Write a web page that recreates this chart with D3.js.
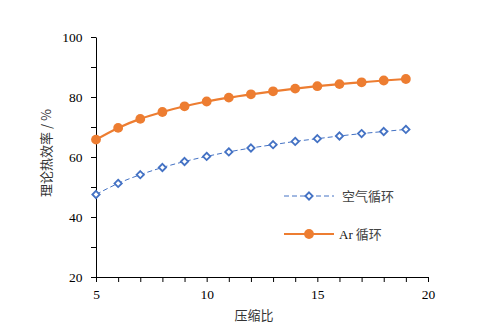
<!DOCTYPE html>
<html>
<head>
<meta charset="utf-8">
<script src="https://cdn.jsdelivr.net/npm/d3@7"></script>
<style>
  html, body { margin: 0; padding: 0; background: #fff; }
  svg { display: block; }
</style>
</head>
<body>
<script>
// Compression ratio and theoretical thermal efficiency (%) for the two cycles
const ratios = [5, 6, 7, 8, 9, 10, 11, 12, 13, 14, 15, 16, 17, 18, 19];
const airEfficiency = [47.5, 51.2, 54.1, 56.5, 58.5, 60.2, 61.7, 63.0, 64.1, 65.2, 66.1, 67.0, 67.8, 68.5, 69.2];
const arEfficiency = [65.8, 69.7, 72.7, 75.0, 76.9, 78.5, 79.8, 80.9, 81.9, 82.8, 83.6, 84.3, 84.9, 85.5, 86.0];
const xTickValues = [5, 10, 15, 20];
const yTickValues = [20, 40, 60, 80, 100];
const seriesNames = ["空气循环", "Ar 循环"];

const W = 482, H = 333;
const margin = { left: 96, right: 54, top: 37, bottom: 56 };
const blue = "#4472C4", orange = "#ED7D31";
const serif = "'Liberation Serif', 'Times New Roman', serif";
const cjk = "'Noto Sans CJK SC', 'Noto Sans', sans-serif";

const svg = d3.select("body").append("svg").attr("width", W).attr("height", H);

const x = d3.scaleLinear().domain([5, 20]).range([margin.left, W - margin.right]);
const y = d3.scaleLinear().domain([20, 100]).range([H - margin.bottom, margin.top]);

// x axis: a tick at every unit, labels every 5
const xAxis = svg.append("g")
  .attr("transform", `translate(0,${y(20)})`)
  .call(d3.axisBottom(x).tickValues(d3.range(5, 21, 1)).tickSize(5).tickSizeOuter(0)
    .tickFormat(d => xTickValues.includes(d) ? d : ""));
xAxis.attr("font-family", serif);
xAxis.selectAll("text").attr("font-family", serif).attr("font-size", 13.5).attr("fill", "#000").attr("dy", "1.0em");

// y axis: labelled majors and unlabelled minors
const yAxis = svg.append("g")
  .attr("transform", `translate(${x(5)},0)`)
  .call(d3.axisLeft(y).tickValues(d3.range(20, 101, 10)).tickSize(5).tickSizeOuter(0)
    .tickFormat(d => yTickValues.includes(d) ? d : ""));
yAxis.attr("font-family", serif);
yAxis.selectAll("text").attr("font-family", serif).attr("font-size", 13.5).attr("fill", "#000").attr("dx", "-0.4em");

svg.selectAll(".domain, .tick line").attr("stroke", "#000").attr("stroke-width", 1);

// Axis titles
svg.append("text")
  .attr("x", 254).attr("y", 320)
  .attr("text-anchor", "middle")
  .attr("font-family", cjk).attr("font-size", 13).attr("fill", "#333")
  .text("压缩比");

svg.append("text")
  .attr("transform", `translate(51,153) rotate(-90)`)
  .attr("text-anchor", "middle")
  .attr("font-family", cjk).attr("font-size", 13).attr("fill", "#333")
  .text("理论热效率 / %");

const line = d3.line().x(d => x(d[0])).y(d => y(d[1])).curve(d3.curveMonotoneX);
const airData = ratios.map((r, i) => [r, airEfficiency[i]]);
const arData = ratios.map((r, i) => [r, arEfficiency[i]]);

// Air cycle: dashed blue line with hollow diamonds
svg.append("path").datum(airData)
  .attr("d", line).attr("fill", "none")
  .attr("stroke", blue).attr("stroke-width", 1).attr("stroke-dasharray", "5,3");

const diamond = d3.symbol().type(d3.symbolDiamond2).size(34);
svg.append("g").selectAll("path").data(airData).join("path")
  .attr("d", diamond)
  .attr("transform", d => `translate(${x(d[0])},${y(d[1])})`)
  .attr("fill", "#fff").attr("stroke", blue).attr("stroke-width", 1.8);

// Ar cycle: solid orange line with filled circles
svg.append("path").datum(arData)
  .attr("d", line).attr("fill", "none")
  .attr("stroke", orange).attr("stroke-width", 2.2);

svg.append("g").selectAll("circle").data(arData).join("circle")
  .attr("cx", d => x(d[0])).attr("cy", d => y(d[1])).attr("r", 4.9)
  .attr("fill", orange);

// Legend
const legend = svg.append("g");
const ly1 = 196, ly2 = 234, lx0 = 284, lx1 = 334, lxm = 309;

legend.append("line").attr("x1", lx0).attr("x2", lx1).attr("y1", ly1).attr("y2", ly1)
  .attr("stroke", blue).attr("stroke-width", 1).attr("stroke-dasharray", "5,3");
legend.append("path").attr("d", diamond).attr("transform", `translate(${lxm},${ly1})`)
  .attr("fill", "#fff").attr("stroke", blue).attr("stroke-width", 1.8);
legend.append("text").attr("x", 342).attr("y", ly1).attr("dy", "0.35em")
  .attr("font-family", cjk).attr("font-size", 13).attr("fill", "#444")
  .text(seriesNames[0]);

legend.append("line").attr("x1", lx0).attr("x2", lx1).attr("y1", ly2).attr("y2", ly2)
  .attr("stroke", orange).attr("stroke-width", 2.2);
legend.append("circle").attr("cx", lxm).attr("cy", ly2).attr("r", 4.9).attr("fill", orange);
const t2 = legend.append("text").attr("x", 339).attr("y", ly2).attr("dy", "0.35em")
  .attr("font-size", 13).attr("fill", "#444");
t2.append("tspan").attr("font-family", serif).attr("fill", "#111").text(seriesNames[1].split(" ")[0]);
t2.append("tspan").attr("font-family", cjk).text(" " + seriesNames[1].split(" ")[1]);
</script>
</body>
</html>
